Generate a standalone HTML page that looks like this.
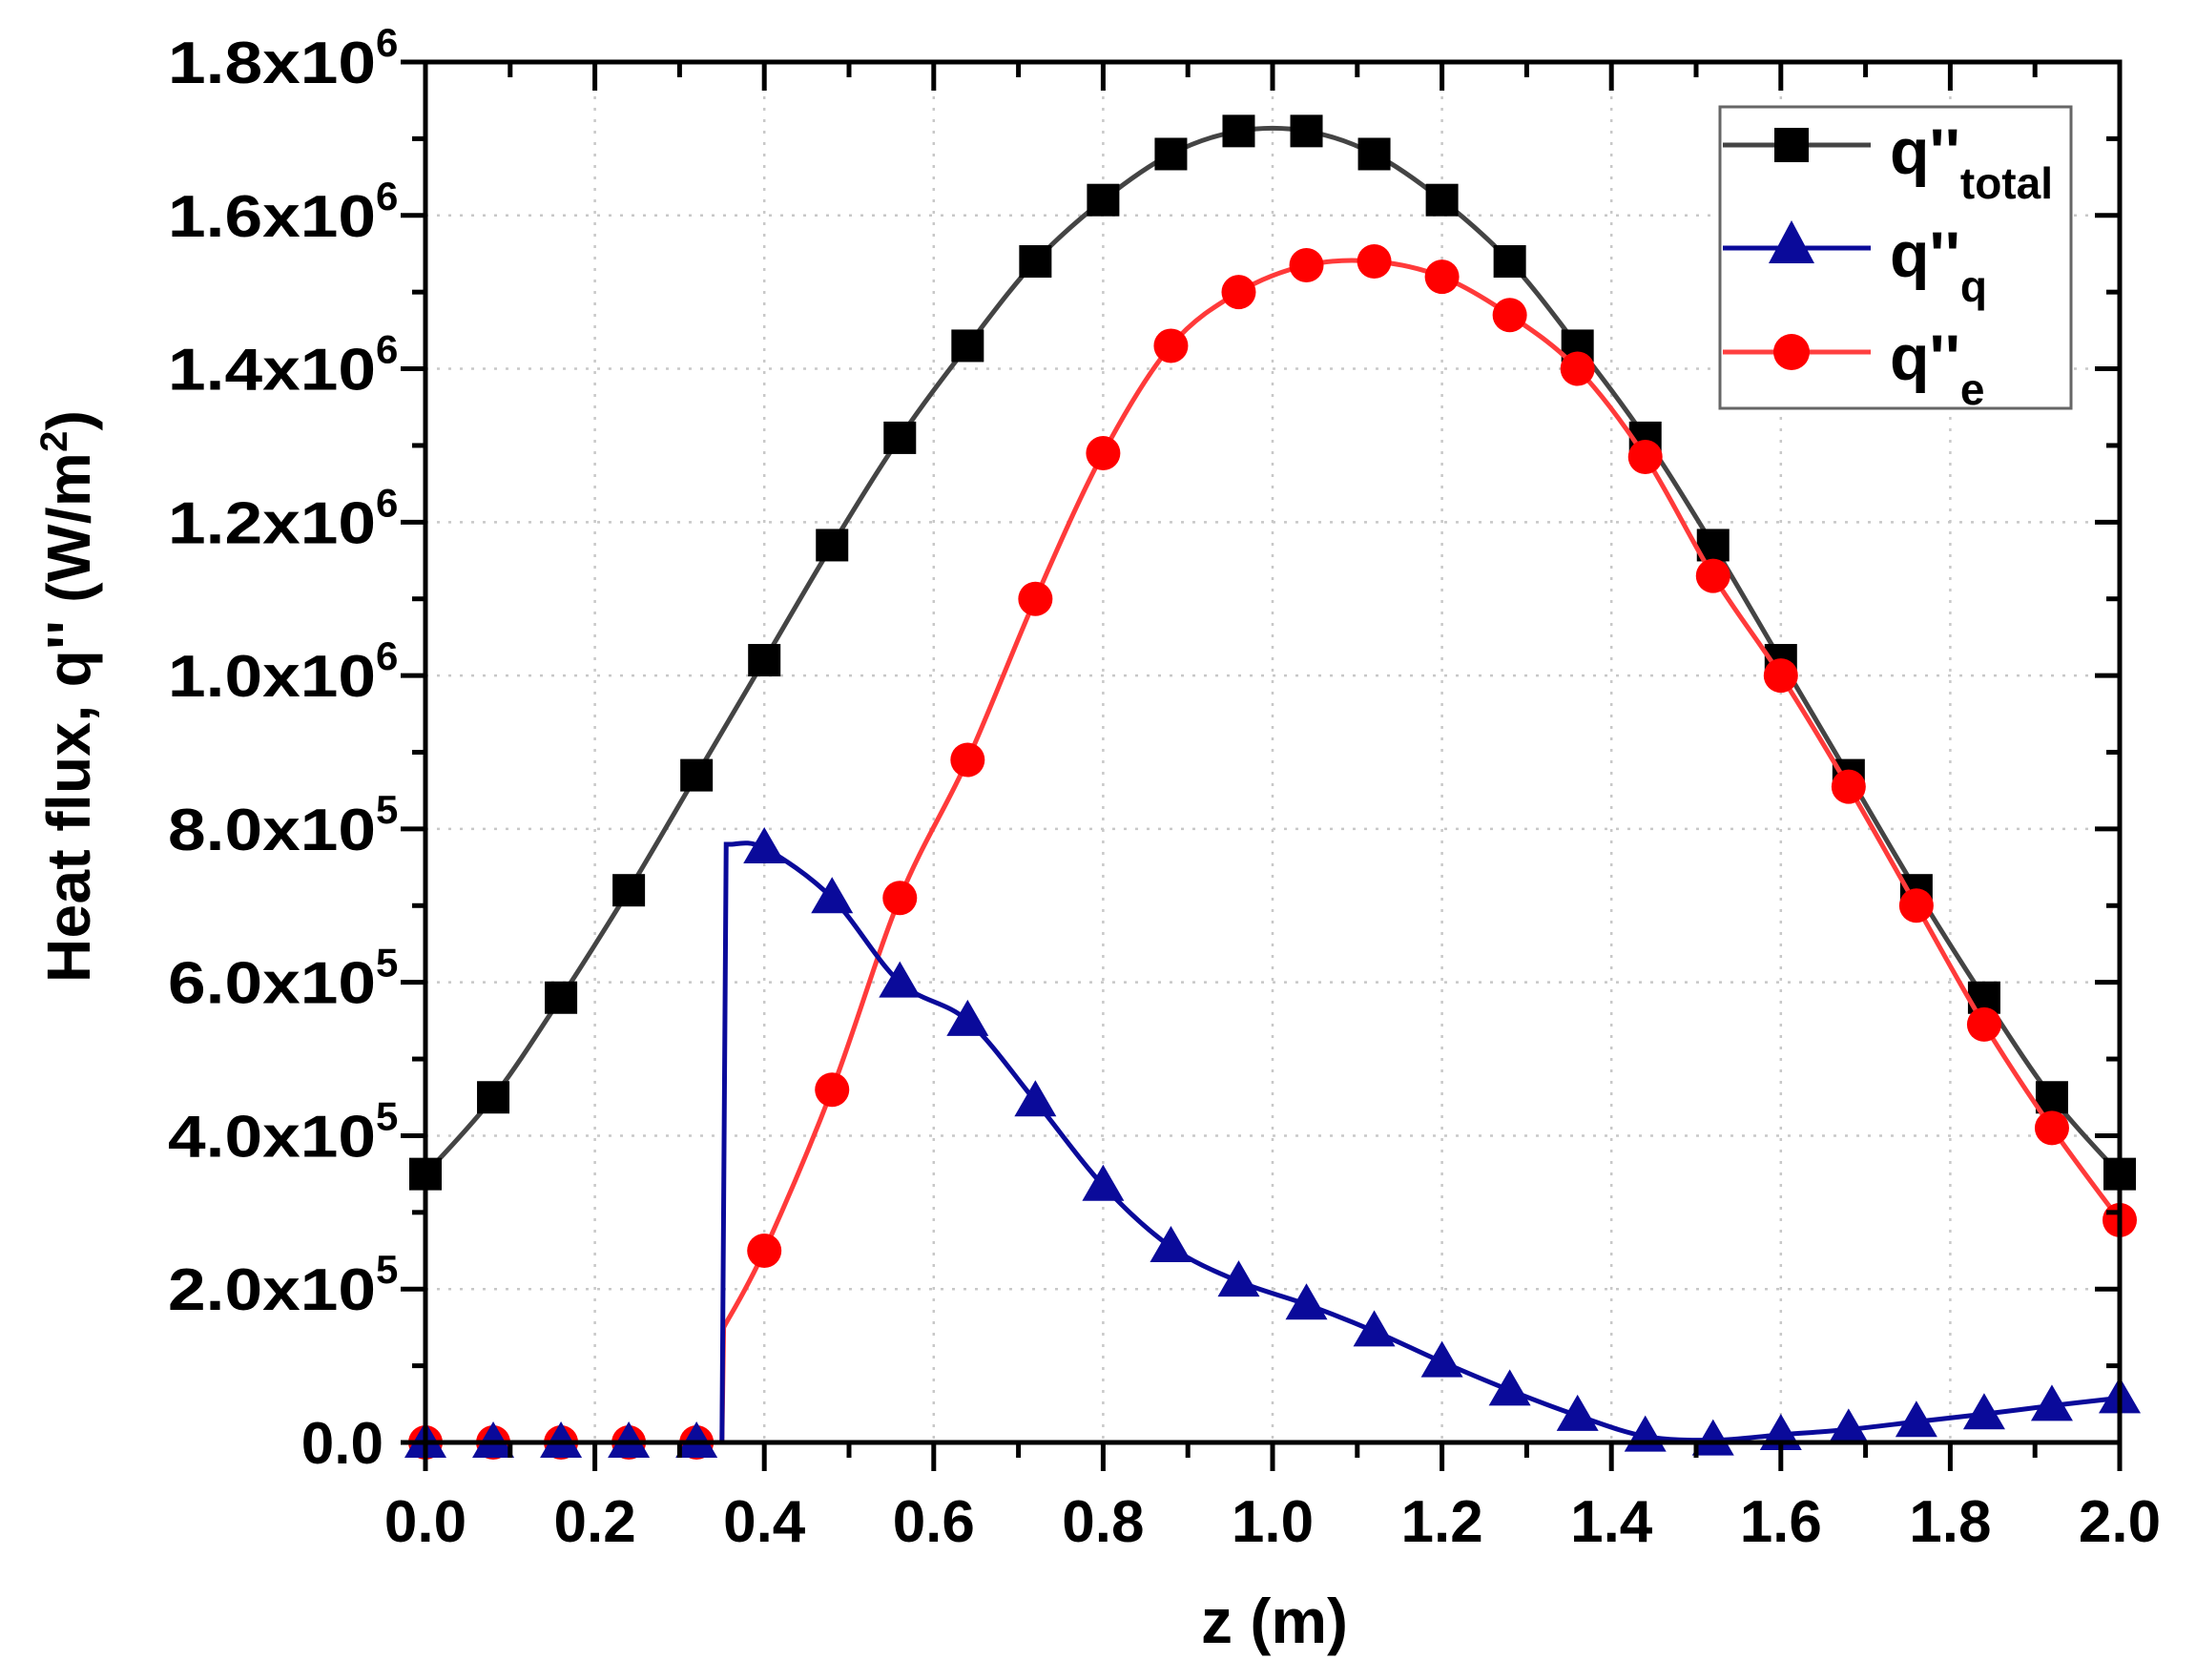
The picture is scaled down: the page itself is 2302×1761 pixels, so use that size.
<!DOCTYPE html>
<html><head><meta charset="utf-8"><style>html,body{margin:0;padding:0;background:#fff}svg{display:block}</style></head>
<body>
<svg id="s" xmlns="http://www.w3.org/2000/svg" width="2302" height="1761" viewBox="0 0 2302 1761" font-family="Liberation Sans, Arial, sans-serif" font-weight="bold">
<rect width="2302" height="1761" fill="#fff"/>
<g id="grid" stroke="#c8c8c8" stroke-width="2.5" stroke-dasharray="3,9"></g>
<g id="series"></g>
<g id="axes" stroke="#000" stroke-width="5" fill="none"></g>
<g id="labels" font-size="62" fill="#000"></g>
<text x="1336" y="1722" font-size="66" text-anchor="middle">z (m)</text>
<text transform="translate(94,730) rotate(-90)" font-size="64" text-anchor="middle" textLength="600">Heat flux, q'' (W/m<tspan font-size="40" dy="-24">2</tspan><tspan dy="24">)</tspan></text>
<g id="legend" transform="translate(-9,0)">
<rect x="1812" y="112" width="368" height="316" fill="#fff" stroke="#666" stroke-width="3"/>
<line x1="1815" y1="152" x2="1970" y2="152" stroke="#444" stroke-width="5"/>
<rect x="1869" y="134" width="36" height="36" fill="#000"/>
<line x1="1815" y1="260" x2="1970" y2="260" stroke="#0a0a9a" stroke-width="5"/>
<polygon points="1887,231 1911,276 1863,276" fill="#0a0a9a"/>
<line x1="1815" y1="369" x2="1970" y2="369" stroke="#ff4040" stroke-width="5"/>
<circle cx="1887" cy="369" r="19" fill="#ff0000"/>
<text x="1990" y="182" font-size="68">q''<tspan font-size="46" dy="26">total</tspan></text>
<text x="1990" y="290" font-size="68">q''<tspan font-size="46" dy="26">q</tspan></text>
<text x="1990" y="398" font-size="68">q''<tspan font-size="46" dy="26">e</tspan></text>
</g>
</svg>
<script>
const L=446,R=2222,T=65,B=1512;
const X=z=>L+(R-L)*z/2, Y=v=>B-(B-T)*v/1.8;
const NS="http://www.w3.org/2000/svg";
function el(p,t,a,txt){const e=document.createElementNS(NS,t);for(const k in a)e.setAttribute(k,a[k]);if(txt!=null)e.textContent=txt;document.getElementById(p).appendChild(e);return e;}
for(let i=1;i<10;i++){el('grid','line',{x1:X(i*0.2),x2:X(i*0.2),y1:T,y2:B});}
for(let i=1;i<9;i++){el('grid','line',{x1:L,x2:R,y1:Y(i*0.2),y2:Y(i*0.2)});}
el('axes','rect',{x:L,y:T,width:R-L,height:B-T});
for(let i=0;i<=20;i++){const x=X(i*0.1),maj=i%2==0;
 el('axes','line',{x1:x,x2:x,y1:B,y2:B+(maj?30:16)});
 el('axes','line',{x1:x,x2:x,y1:T,y2:T+(maj?30:16)});
 if(maj)el('labels','text',{x:x,y:1616,'text-anchor':'middle'},(i/10).toFixed(1));}
for(let i=0;i<=18;i++){const y=Y(i*0.1),maj=i%2==0;
 el('axes','line',{x1:L,x2:L-(maj?26:14),y1:y,y2:y});
 el('axes','line',{x1:R,x2:R-(maj?26:14),y1:y,y2:y});
 if(maj){const v=i/10;let t;
  if(i==0){t=el('labels','text',{x:402,y:y+22,'text-anchor':'end'},'0.0');}
  else{const m=v>=1?v:v*10, e=v>=1?6:5;
   t=el('labels','text',{x:176,y:y+22});
   const a=document.createElementNS(NS,'tspan');a.setAttribute('textLength','218');a.setAttribute('lengthAdjust','spacingAndGlyphs');a.textContent=m.toFixed(1)+'x10';t.appendChild(a);
   const s=document.createElementNS(NS,'tspan');s.setAttribute('font-size','42');s.setAttribute('dy','-28');s.textContent=e;t.appendChild(s);}}}
const zs=[...Array(26)].map((_,i)=>i*0.08);
const tot=[0.35,0.45,0.58,0.72,0.87,1.02,1.17,1.31,1.43,1.54,1.62,1.68,1.71,1.71,1.68,1.62,1.54,1.43,1.31,1.17,1.02,0.87,0.72,0.58,0.45,0.35];
const ev=[0,0,0,0,0,0.25,0.46,0.71,0.89,1.10,1.29,1.43,1.50,1.535,1.54,1.52,1.47,1.40,1.285,1.13,1.00,0.855,0.70,0.545,0.41,0.29];
const qv=[0,0,0,0,0,0.775,0.71,0.60,0.55,0.445,0.335,0.255,0.21,0.18,0.145,0.105,0.068,0.035,0.008,0.003,0.01,0.017,0.027,0.037,0.048,0.058];
function smooth(pts){let d=`M${pts[0][0]},${pts[0][1]}`;for(let i=0;i<pts.length-1;i++){const p0=pts[i-1]||pts[i],p1=pts[i],p2=pts[i+1],p3=pts[i+2]||p2;
 d+=` C${p1[0]+(p2[0]-p0[0])/6},${p1[1]+(p2[1]-p0[1])/6} ${p2[0]-(p3[0]-p1[0])/6},${p2[1]-(p3[1]-p1[1])/6} ${p2[0]},${p2[1]}`;}return d;}
el('series','path',{d:smooth(zs.map((z,i)=>[X(z),Y(tot[i])])),fill:'none',stroke:'#444','stroke-width':5});
zs.forEach((z,i)=>el('series','rect',{x:X(z)-17,y:Y(tot[i])-17,width:34,height:34,fill:'#000'}));
const ePts=[[0.352,0.15],[0.4,0.25]].concat(zs.slice(6).map((z,i)=>[z,ev[i+6]]));
el('series','path',{d:`M${X(0)},${Y(0)} L${X(0.35)},${Y(0)} `+smooth(ePts.map(p=>[X(p[0]),Y(p[1])])).replace('M','L'),fill:'none',stroke:'#ff3a3a','stroke-width':5});
zs.forEach((z,i)=>el('series','circle',{cx:X(z),cy:Y(ev[i]),r:18,fill:'#ff0000'}));
const qPts=[[0.36,0.78]].concat(zs.slice(5).map((z,i)=>[z,qv[i+5]]));
el('series','path',{d:`M${X(0)},${Y(0)} L${X(0.35)},${Y(0)} L${X(0.355)},${Y(0.78)} `+smooth(qPts.map(p=>[X(p[0]),Y(p[1])])).replace('M','L'),fill:'none',stroke:'#0a0a9a','stroke-width':5});
zs.forEach((z,i)=>{const x=X(z),y=Y(qv[i]);el('series','polygon',{points:`${x},${y-22} ${x+22},${y+16} ${x-22},${y+16}`,fill:'#0a0a9a'});});
</script>
</body></html>
